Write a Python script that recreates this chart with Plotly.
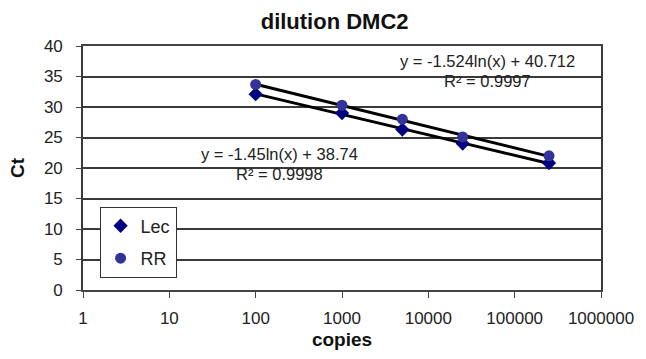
import numpy as np
import plotly.graph_objects as go

copies = [100, 1000, 5000, 25000, 250000]
lec_ct = [32.1, 29.0, 26.3, 24.0, 20.8]
rr_ct = [33.7, 30.3, 28.0, 25.1, 22.0]
x_tick_vals = [1, 10, 100, 1000, 10000, 100000, 1000000]
x_tick_text = ["1", "10", "100", "1000", "10000", "100000", "1000000"]
y_tick_vals = [0, 5, 10, 15, 20, 25, 30, 35, 40]
lec_eq = ["y = -1.45ln(x) + 38.74", "R² = 0.9998"]
rr_eq = ["y = -1.524ln(x) + 40.712", "R² = 0.9997"]

FONT = "Liberation Sans, Arial, sans-serif"


def trend(xs, ys):
    lx = np.log(np.array(xs, dtype=float))
    a, b = np.polyfit(lx, np.array(ys, dtype=float), 1)
    xx = np.array([min(xs), max(xs)], dtype=float)
    return xx, a * np.log(xx) + b


fig = go.Figure()
for ys in (lec_ct, rr_ct):
    tx, ty = trend(copies, ys)
    fig.add_trace(go.Scatter(x=tx, y=ty, mode="lines", showlegend=False,
                             line=dict(color="black", width=3), hoverinfo="skip"))

fig.add_trace(go.Scatter(x=copies, y=lec_ct, mode="markers", name="Lec", legendgroup="a",
                         marker=dict(symbol="diamond", size=11, color="#000080")))
fig.add_trace(go.Scatter(x=copies, y=rr_ct, mode="markers", name="RR", legendgroup="b",
                         marker=dict(symbol="circle", size=11, color="#333399")))

EQF = dict(size=16.5, color="#222")
fig.add_annotation(x=4.69, y=37.5, text=rr_eq[0], showarrow=False, font=EQF, xref="x", yref="y")
fig.add_annotation(x=4.69, y=34.25, text=rr_eq[1], showarrow=False, font=EQF, xref="x", yref="y")
fig.add_annotation(x=2.28, y=22.3, text=lec_eq[0], showarrow=False, font=EQF, xref="x", yref="y")
fig.add_annotation(x=2.28, y=19.0, text=lec_eq[1], showarrow=False, font=EQF, xref="x", yref="y")

fig.update_layout(
    width=646, height=359,
    margin=dict(l=83, r=40, t=46, b=69),
    paper_bgcolor="white", plot_bgcolor="white",
    font=dict(family=FONT, size=17, color="#222"),
    title=dict(text="<b>dilution DMC2</b>", x=0.518, xanchor="center", y=0.94, yanchor="middle",
               font=dict(size=22, color="#111")),
    showlegend=True,
    legend=dict(x=0.032, y=0.342, xanchor="left", yanchor="top",
                bordercolor="#333", borderwidth=1, bgcolor="white",
                font=dict(size=18, color="#222"), tracegroupgap=6,
                itemwidth=30),
    xaxis=dict(type="log", range=[0, 6], tickvals=x_tick_vals, ticktext=x_tick_text,
               showgrid=False, showline=True, linecolor="#444", linewidth=1.5, mirror=True,
               ticks="outside", ticklen=6, tickcolor="#444", ticklabelstandoff=6,
               tickfont=dict(size=17, color="#222"),
               title=dict(text="<b>copies</b>", font=dict(size=19, color="#111"), standoff=6)),
    yaxis=dict(range=[0, 40], tickvals=y_tick_vals, showgrid=True, gridcolor="#3a3a3a",
               gridwidth=1.6, showline=True, linecolor="#3a3a3a", linewidth=1.6, mirror=True,
               ticks="outside", ticklen=5, tickcolor="#444", zeroline=False,
               ticklabelstandoff=10,
               tickfont=dict(size=17, color="#222"),
               title=dict(text="<b>Ct</b>", font=dict(size=19, color="#111"), standoff=14)),
)

fig.write_html("out.html")
